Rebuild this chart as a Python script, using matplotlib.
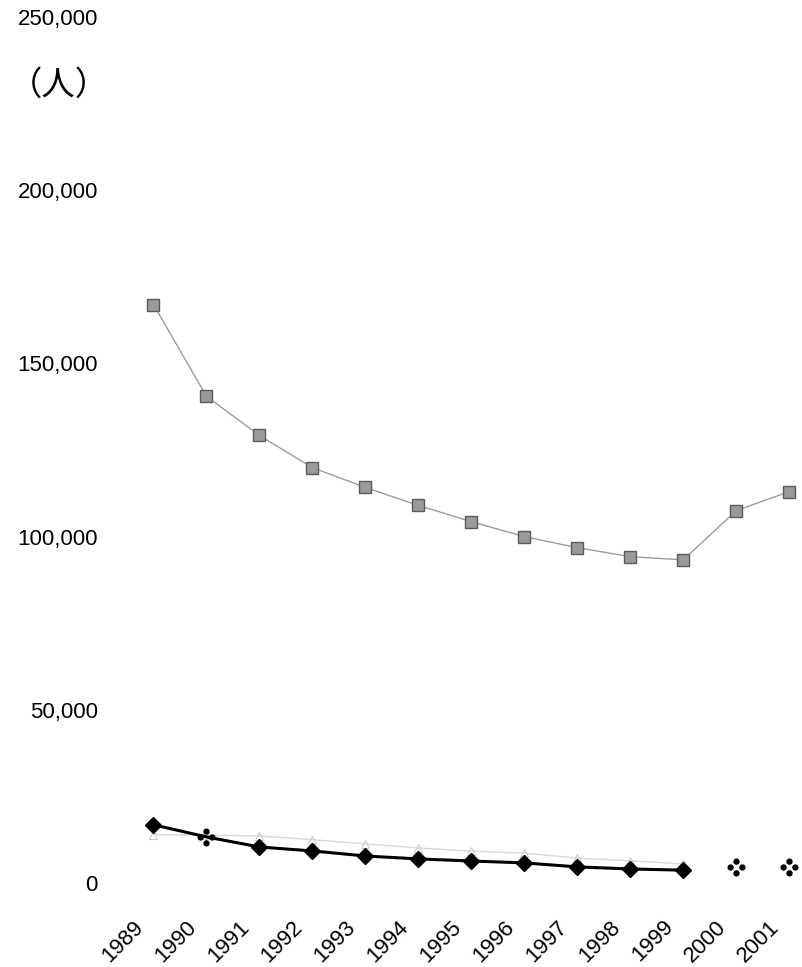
import matplotlib
matplotlib.use('Agg')
import matplotlib.pyplot as plt
import numpy as np
from matplotlib.path import Path
from matplotlib.transforms import ScaledTranslation, Affine2D

# ---------------- data ----------------
years = ['1989', '1990', '1991', '1992', '1993', '1994', '1995',
         '1996', '1997', '1998', '1999', '2000', '2001']
series_gray = [167000, 140500, 129200, 119900, 114200, 109000, 104300,
               100000, 96800, 94200, 93300, 107500, 113000]
series_black = [16800, 13300, 10400, 9250, 7800, 6950, 6350,
                5800, 4650, 4050, 3700, np.nan, np.nan]
series_faint = [14000, 13800, 13600, 12500, 11300, 10100, 9200,
                8600, 7200, 6400, 5500, np.nan, np.nan]
series_dots = [np.nan, 13300, np.nan, np.nan, np.nan, np.nan, np.nan,
               np.nan, np.nan, np.nan, np.nan, 4600, 4600]
yticks = [0, 50000, 100000, 150000, 200000, 250000]
ytick_labels = ['0', '50,000', '100,000', '150,000', '200,000', '250,000']
unit_label = '（人）'

# ---------------- figure ----------------
W, H = 802, 967
fig = plt.figure(figsize=(W / 100, H / 100), dpi=100)
left_px, right_px, top_px, bottom_px = 127, 802, 17, 883
ax = fig.add_axes([left_px / W, 1 - bottom_px / H,
                   (right_px - left_px) / W, (bottom_px - top_px) / H])

x = np.arange(len(years))

# four-dot marker
circ = Path.unit_circle()
parts = []
for dx, dy in [(0, 1), (0, -1), (1, 0), (-1, 0)]:
    parts.append(circ.transformed(Affine2D().scale(0.42).translate(dx, dy)))
four_dot = Path.make_compound_path(*parts)

# faint light-gray series with triangles
ax.plot(x, series_faint, color='#d8d8d8', lw=1.0, marker='^', ms=6,
        markerfacecolor='none', markeredgecolor='#cccccc', mew=0.8,
        zorder=2, clip_on=False)

# gray squares series
ax.plot(x, series_gray, color='#9c9c9c', lw=1.0, marker='s', ms=8.5,
        markerfacecolor='#9a9a9a', markeredgecolor='#5a5a5a', mew=1.0,
        zorder=3, clip_on=False)

# black diamonds series
mk = [i for i in range(len(years)) if i != 1]
ax.plot(x, series_black, color='black', lw=2.2, marker='D', ms=8.5,
        markevery=mk, markerfacecolor='black', markeredgecolor='black',
        zorder=4, clip_on=False)

# four-dot markers
ax.plot(x, series_dots, linestyle='none', marker=four_dot, ms=12,
        color='black', zorder=5, clip_on=False)

ax.set_xlim(-0.5, 12.24)
ax.set_ylim(0, 250000)
for s in ax.spines.values():
    s.set_visible(False)

tick_font = ['Liberation Sans Narrow', 'Liberation Sans', 'DejaVu Sans']
ax.set_yticks(yticks)
ax.set_yticklabels(ytick_labels, fontsize=16, family=tick_font)
ax.set_xticks(x)
ax.set_xticklabels(years, fontsize=16, family=tick_font,
                   rotation=45, ha='right')
ax.tick_params(axis='y', length=0, pad=20.9)
ax.tick_params(axis='x', length=0, pad=24)
offset = ScaledTranslation(-6 / 100, 0, fig.dpi_scale_trans)
for lbl in ax.get_xticklabels():
    lbl.set_transform(lbl.get_transform() + offset)

fig.text(59 / W, 1 - 85 / H, unit_label, fontsize=24,
         family=['Noto Sans CJK JP', 'DejaVu Sans'],
         ha='center', va='center')

fig.savefig('out.png', dpi=100)
